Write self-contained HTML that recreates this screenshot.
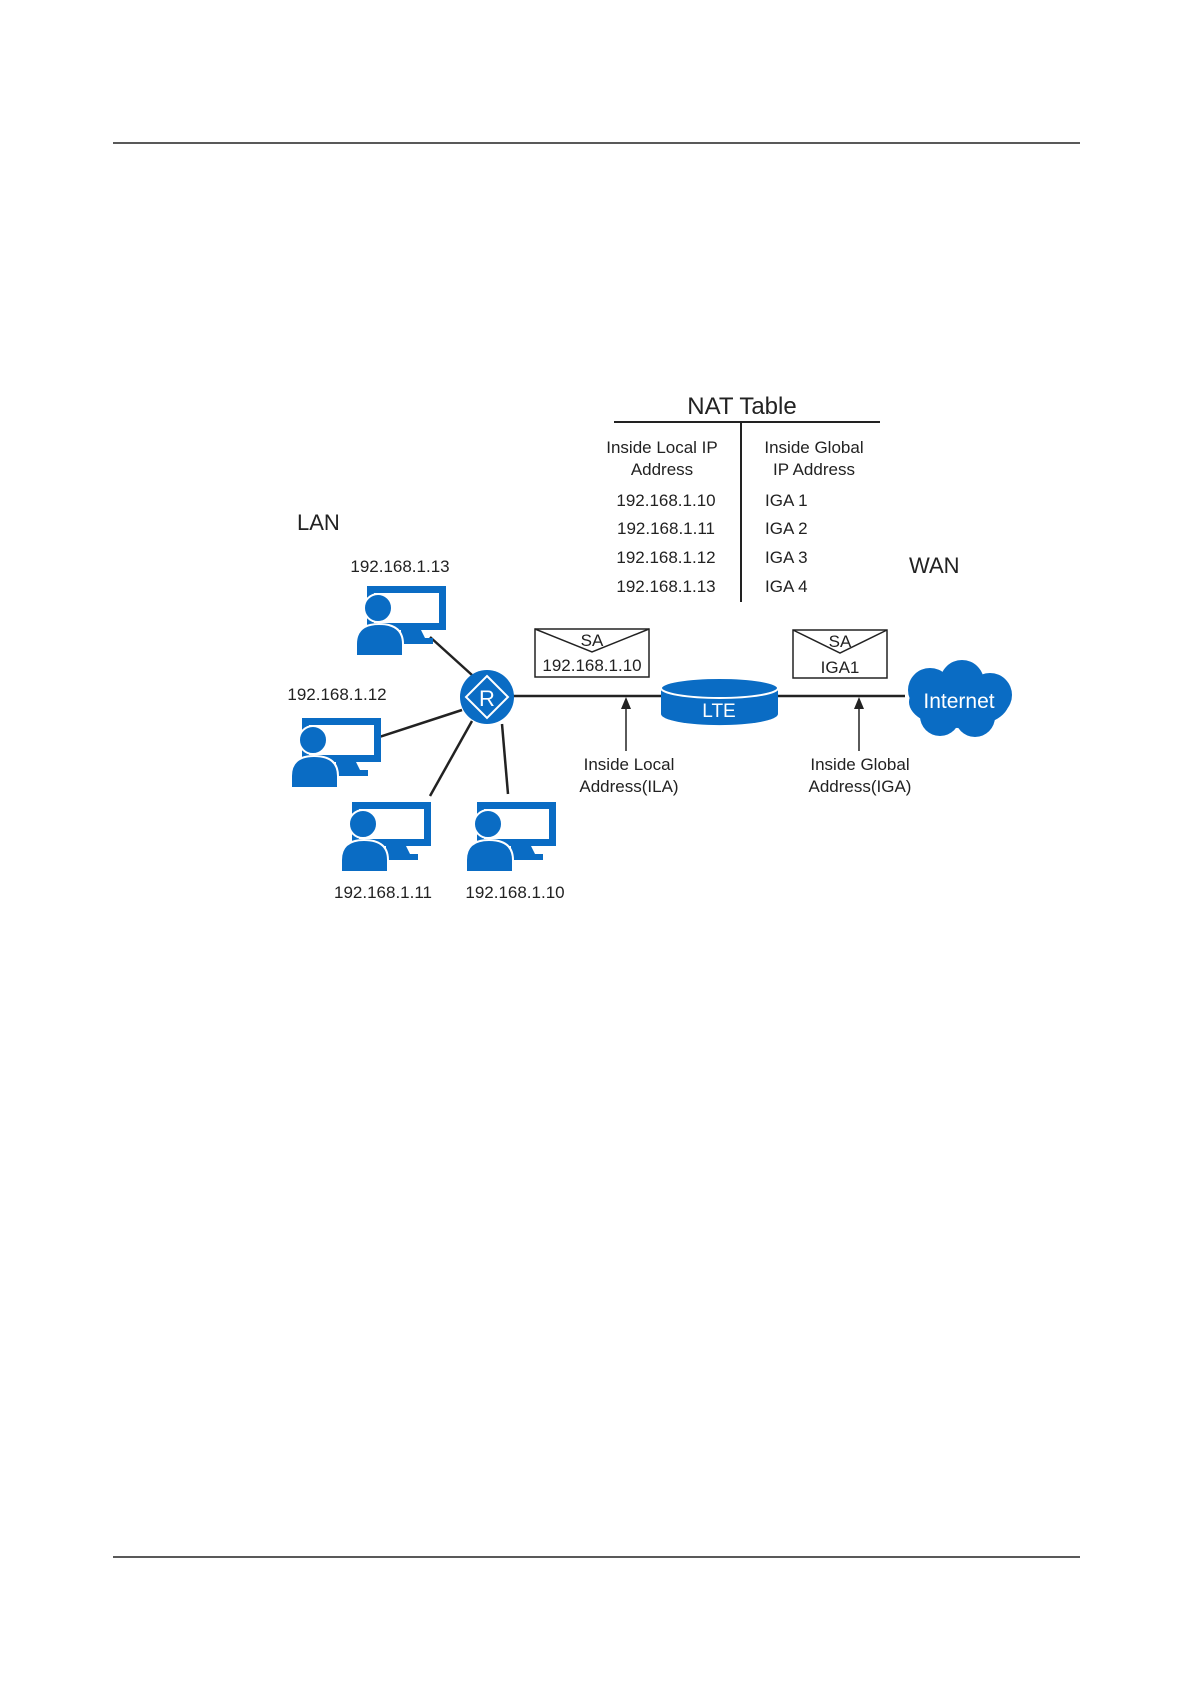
<!DOCTYPE html>
<html><head><meta charset="utf-8"><style>
html,body{margin:0;padding:0;background:#fff}
svg{display:block}
text{font-family:"Liberation Sans",Arial,sans-serif;fill:#222}
</style></head><body>
<svg width="1191" height="1684" viewBox="0 0 1191 1684" xmlns="http://www.w3.org/2000/svg">
<defs>
<g id="pc">
  <rect x="3.5" y="3.5" width="72" height="37" fill="#fff" stroke="#0a6cc4" stroke-width="7"/>
  <path d="M34 44 H54 L58 52 H66 V58 H30 V52 H34 Z" fill="#0a6cc4"/>
  <path d="M-11 70 V58 Q-11 38 12 38 Q36 38 36 58 V70 Z" fill="#0a6cc4" stroke="#fff" stroke-width="2"/>
  <circle cx="11" cy="22" r="14" fill="#0a6cc4" stroke="#fff" stroke-width="2"/>
</g>
</defs>
<line x1="113" y1="143" x2="1080" y2="143" stroke="#222" stroke-width="1.5"/>
<line x1="113" y1="1557" x2="1080" y2="1557" stroke="#222" stroke-width="1.5"/>

<text x="742" y="414" font-size="24" text-anchor="middle">NAT Table</text>
<line x1="614" y1="422" x2="880" y2="422" stroke="#222" stroke-width="2"/>
<line x1="741" y1="422" x2="741" y2="602" stroke="#222" stroke-width="2"/>
<g font-size="17" text-anchor="middle">
<text x="662" y="453">Inside Local IP</text>
<text x="662" y="475">Address</text>
<text x="814" y="453">Inside Global</text>
<text x="814" y="475">IP Address</text>
<text x="666" y="506">192.168.1.10</text>
<text x="666" y="534">192.168.1.11</text>
<text x="666" y="563">192.168.1.12</text>
<text x="666" y="592">192.168.1.13</text>
</g>
<g font-size="17">
<text x="765" y="506">IGA 1</text>
<text x="765" y="534">IGA 2</text>
<text x="765" y="563">IGA 3</text>
<text x="765" y="592">IGA 4</text>
</g>
<text x="297" y="530" font-size="22">LAN</text>
<text x="909" y="573" font-size="22">WAN</text>

<g font-size="17" text-anchor="middle">
<text x="400" y="572">192.168.1.13</text>
<text x="337" y="700">192.168.1.12</text>
<text x="383" y="898">192.168.1.11</text>
<text x="515" y="898">192.168.1.10</text>
</g>

<g stroke="#222" stroke-width="2.5">
<line x1="430" y1="637" x2="472" y2="675"/>
<line x1="370" y1="740" x2="462" y2="710"/>
<line x1="430" y1="796" x2="472" y2="721"/>
<line x1="508" y1="794" x2="502" y2="724"/>
<line x1="510" y1="696" x2="905" y2="696"/>
</g>

<use href="#pc" x="367" y="586"/>
<use href="#pc" x="302" y="718"/>
<use href="#pc" x="352" y="802"/>
<use href="#pc" x="477" y="802"/>

<circle cx="487" cy="697" r="27" fill="#0a6cc4"/>
<path d="M487 676 L508 697 L487 718 L466 697 Z" fill="none" stroke="#fff" stroke-width="2"/>
<text x="487" y="706" font-size="22" text-anchor="middle" style="fill:#fff">R</text>

<path d="M661 688 V714 A58 11 0 0 0 778 714 V688 Z" fill="#0a6cc4"/>
<ellipse cx="719.5" cy="688" rx="58.5" ry="10" fill="#0a6cc4" stroke="#fff" stroke-width="2"/>
<text x="719" y="717" font-size="19" text-anchor="middle" style="fill:#fff">LTE</text>

<g fill="#0a6cc4">
<ellipse cx="959" cy="702" rx="50" ry="26"/>
<circle cx="930" cy="690" r="22"/>
<circle cx="962" cy="682" r="22"/>
<circle cx="990" cy="695" r="22"/>
<circle cx="940" cy="716" r="20"/>
<circle cx="975" cy="717" r="20"/>
</g>
<text x="959" y="708" font-size="21" text-anchor="middle" style="fill:#fff">Internet</text>

<g fill="#fff" stroke="#222" stroke-width="1.5">
<rect x="535" y="629" width="114" height="48"/>
<polyline points="535,629 592,652 649,629" fill="none"/>
<rect x="793" y="630" width="94" height="48"/>
<polyline points="793,630 840,653 887,630" fill="none"/>
</g>
<g font-size="17" text-anchor="middle">
<text x="592" y="646">SA</text>
<text x="592" y="671">192.168.1.10</text>
<text x="840" y="647">SA</text>
<text x="840" y="673">IGA1</text>
</g>

<g stroke="#222" stroke-width="1.5">
<line x1="626" y1="751" x2="626" y2="706"/>
<line x1="859" y1="751" x2="859" y2="706"/>
</g>
<path d="M626 697 L621 709 L631 709 Z M859 697 L854 709 L864 709 Z" fill="#222"/>
<g font-size="17" text-anchor="middle">
<text x="629" y="770">Inside Local</text>
<text x="629" y="792">Address(ILA)</text>
<text x="860" y="770">Inside Global</text>
<text x="860" y="792">Address(IGA)</text>
</g>
</svg>
</body></html>
